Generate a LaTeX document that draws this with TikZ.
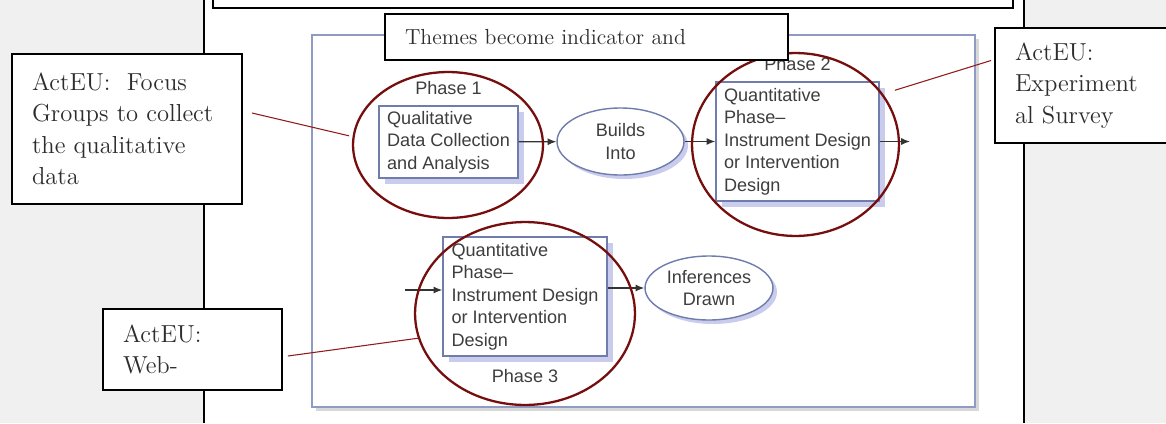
\documentclass[tikz,border=0pt]{standalone}
\usepackage{fontspec}
\newfontfamily\figsans{Liberation Sans}
\usetikzlibrary{positioning,shapes.geometric,shadows,arrows.meta}

\definecolor{pagegray}{RGB}{240,240,240}
\definecolor{frameblue}{RGB}{143,155,195}
\definecolor{boxblue}{RGB}{112,124,172}
\definecolor{shadelav}{RGB}{202,204,238}
\definecolor{ringred}{RGB}{118,14,14}
\definecolor{leadred}{RGB}{145,25,25}
\definecolor{figtext}{RGB}{62,62,62}
\definecolor{calltext}{RGB}{45,45,45}

\tikzset{
  callout/.style={draw=black, line width=1.1pt, fill=white, align=left, inner xsep=0.4cm, inner ysep=0pt,
    text=calltext, font=\fontsize{14}{17.9}\selectfont},
  phasebox/.style={draw=boxblue, line width=0.8pt, fill=white, align=left, inner sep=0pt, text=figtext,
    font=\figsans\fontsize{10.3}{12.8}\selectfont,
    drop shadow={shadow xshift=0.12cm, shadow yshift=-0.12cm, fill=shadelav, opacity=1}},
  bubble/.style={ellipse, draw=boxblue, line width=0.8pt, fill=white, align=center, inner sep=0pt, text=figtext,
    font=\figsans\fontsize{10.3}{12.8}\selectfont,
    drop shadow={shadow xshift=0.08cm, shadow yshift=-0.08cm, fill=shadelav, opacity=1}},
  phaselabel/.style={inner sep=0pt, text=figtext, font=\figsans\fontsize{10.3}{12.8}\selectfont},
  ring/.style={ellipse, draw=ringred, line width=1.3pt, inner sep=0pt},
  leader/.style={draw=leadred, line width=0.6pt},
  flow/.style={draw=black!80, line width=0.7pt, -{Latex[length=5pt,width=4pt]}}
}

\begin{document}
\begin{tikzpicture}[x=0.02cm, y=-0.02cm]
 \useasboundingbox (0,0) rectangle (1166,423);

 % page
 \fill[pagegray] (0,0) rectangle (1166,423);
 \fill[white] (204,0) rectangle (1024,423);
 \draw[line width=0.8pt] (204,0) -- (204,423) (1024,0) -- (1024,423);
 \draw[line width=1.1pt] (213,-10) rectangle (1013,8);

 % figure
 \draw[frameblue, line width=0.9pt, fill=white,
   drop shadow={shadow xshift=0.08cm, shadow yshift=-0.08cm, opacity=0.3}] (312,35) rectangle (975,407);

 \node[phasebox, minimum width=2.78cm, minimum height=1.44cm] (ph1) at (448.5,142)
   {Qualitative\\Data Collection\\and Analysis};
 \node[bubble, minimum width=2.54cm, minimum height=1.34cm] (builds) at (620.5,141.5) {Builds\\Into};
 \node[phasebox, minimum width=3.26cm, minimum height=2.38cm] (ph2) at (797.5,141.5)
   {Quantitative\\Phase–\\Instrument Design\\or Intervention\\Design};
 \node[phasebox, minimum width=3.28cm, minimum height=2.38cm] (ph3) at (525,296.5)
   {Quantitative\\Phase–\\Instrument Design\\or Intervention\\Design};
 \node[bubble, minimum width=2.56cm, minimum height=1.28cm] (infer) at (709,288) {Inferences\\Drawn};

 \node[phaselabel, above=0.21cm of ph1] (lab1) {Phase 1};
 \node[phaselabel, above=0.21cm of ph2] (lab2) {Phase 2};
 \node[phaselabel, below=0.25cm of ph3] (lab3) {Phase 3};

 \coordinate (out2) at (910,141.5);
 \coordinate (in3) at (405,290);
 \draw[flow] (ph1) -- (builds);
 \draw[flow] (builds) -- (ph2);
 \draw[flow] (ph2) -- (out2);
 \draw[flow] (in3) -- (in3 -| ph3.west);
 \draw[flow] (ph3.east |- infer) -- (infer);

 % rings
 \foreach \n/\cx/\cy/\rx/\ry in {1/448/145/95/73, 2/795.5/144.5/103.5/91.5, 3/525/313.5/110/91.5} {
   \node[ring, minimum width=\rx*0.04cm, minimum height=\ry*0.04cm] (ring\n) at (\cx,\cy) {};
 }

 % callouts
 \node[callout, text width=3.8cm, minimum height=3.0cm] (callA) at (127,129)
   {ActEU:\ \ Focus\\Groups to collect\\the qualitative\\data};
 \node[callout, text width=2.82cm, minimum height=2.3cm] (callB) at (1085.5,85.5)
   {ActEU:\\Experiment\\al Survey};
 \node[callout, text width=2.78cm, minimum height=1.62cm] (callC) at (192.5,349.5)
   {ActEU:\\Web-};

 \draw[leader, shorten >=2pt] ([shift={(9,-16)}]callA.east) -- (ring1.175);
 \draw[leader, shorten >=7pt] ([shift={(-3,-25)}]callB.west) -- (ring2.30);
 \draw[leader] ([shift={(5,6.5)}]callC.east) -- (ring3.193);

 \node[draw=black, line width=1.1pt, fill=white, minimum width=8.06cm, minimum height=0.92cm,
   text width=7.26cm, inner xsep=0.4cm, inner ysep=0pt, align=left, text=calltext,
   font=\fontsize{12.4}{15}\selectfont] (themes) at (586.5,37) {Themes become indicator and};
\end{tikzpicture}
\end{document}
